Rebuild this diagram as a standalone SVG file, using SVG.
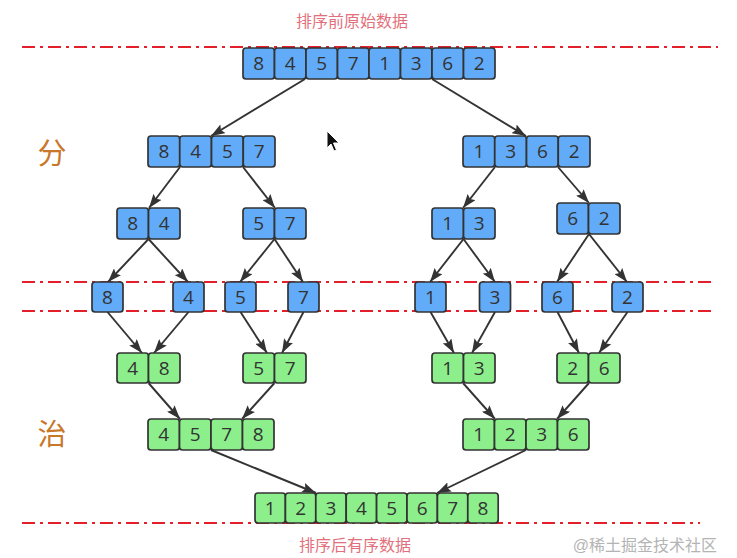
<svg xmlns="http://www.w3.org/2000/svg" width="737" height="558" viewBox="0 0 737 558">
<defs>
<marker id="ah" viewBox="0 0 14 10" refX="14" refY="5" markerWidth="14" markerHeight="10" markerUnits="userSpaceOnUse" orient="auto">
<path d="M0,0 L14,5 L0,10 L2.5,5 Z" fill="#333"/>
</marker>
</defs>
<style>
.b{fill:#62abf8;stroke:#333;stroke-width:1.7}
.g{fill:#8cef8c;stroke:#333;stroke-width:1.7}
.t{font-family:"Open Sans","Liberation Sans",sans-serif;font-size:19px;fill:#333;text-anchor:middle}
.dl{stroke:#e3202a;stroke-width:2;stroke-dasharray:13 5 3 5;fill:none}
.c{stroke:#333;stroke-width:1.9;fill:none;marker-end:url(#ah)}
.lbl{font-family:"Liberation Sans","Noto Sans CJK SC",sans-serif;font-size:16px;fill:#e2707c;text-anchor:middle}
.big{font-family:"Liberation Sans","Noto Sans CJK SC",sans-serif;font-size:29px;fill:#c8782a;text-anchor:middle}
</style>
<rect width="737" height="558" fill="#fff"/>
<g id="guides">
<line class="dl" x1="22" y1="47" x2="718" y2="47"/>
<line class="dl" x1="22" y1="282" x2="714" y2="282"/>
<line class="dl" x1="22" y1="311" x2="714" y2="311"/>
<line class="dl" x1="22" y1="523" x2="700" y2="523"/>
</g>
<text class="lbl" x="352" y="27">排序前原始数据</text>
<text class="lbl" x="355" y="551">排序后有序数据</text>
<text class="big" x="52" y="164">分</text>
<text class="big" x="52" y="445">治</text>
<text x="717" y="551" font-family="Liberation Sans,'Noto Sans CJK SC',sans-serif" font-size="16" fill="#b4b4b4" text-anchor="end">@稀土掘金技术社区</text>

<g id="connectors">
<line class="c" x1="305" y1="79" x2="211" y2="136"/>
<line class="c" x1="432" y1="79" x2="526" y2="136"/>
<line class="c" x1="180" y1="167" x2="149" y2="208"/>
<line class="c" x1="243" y1="167" x2="275" y2="208"/>
<line class="c" x1="495" y1="167" x2="463" y2="208"/>
<line class="c" x1="558" y1="167" x2="589" y2="203"/>
<line class="c" x1="148.5" y1="239" x2="108" y2="282"/>
<line class="c" x1="148.5" y1="239" x2="188" y2="282"/>
<line class="c" x1="274.5" y1="239" x2="240" y2="282"/>
<line class="c" x1="274.5" y1="239" x2="303" y2="282"/>
<line class="c" x1="463.5" y1="239" x2="430" y2="282"/>
<line class="c" x1="463.5" y1="239" x2="495" y2="282"/>
<line class="c" x1="589" y1="234" x2="557" y2="282"/>
<line class="c" x1="589" y1="234" x2="627" y2="282"/>
<line class="c" x1="107.5" y1="312" x2="142" y2="353"/>
<line class="c" x1="188.5" y1="312" x2="154" y2="353"/>
<line class="c" x1="240.5" y1="312" x2="267" y2="353"/>
<line class="c" x1="303.5" y1="312" x2="282" y2="353"/>
<line class="c" x1="430.5" y1="312" x2="454" y2="353"/>
<line class="c" x1="495" y1="312" x2="472" y2="353"/>
<line class="c" x1="557.5" y1="312" x2="579" y2="353"/>
<line class="c" x1="627.5" y1="312" x2="599" y2="353"/>
<line class="c" x1="148.5" y1="383" x2="180" y2="419"/>
<line class="c" x1="274.5" y1="383" x2="242" y2="419"/>
<line class="c" x1="463" y1="383" x2="495" y2="419"/>
<line class="c" x1="589" y1="383" x2="557" y2="419"/>
<line class="c" x1="211" y1="450" x2="316" y2="493"/>
<line class="c" x1="526" y1="450" x2="437" y2="493"/>
</g>

<g id="n-top">
<rect class="b" x="243" y="48" width="31.5" height="31" rx="3"/><text class="t" x="258.75" y="70">8</text>
<rect class="b" x="274.5" y="48" width="31.5" height="31" rx="3"/><text class="t" x="290.25" y="70">4</text>
<rect class="b" x="306" y="48" width="31.5" height="31" rx="3"/><text class="t" x="321.75" y="70">5</text>
<rect class="b" x="337.5" y="48" width="31.5" height="31" rx="3"/><text class="t" x="353.25" y="70">7</text>
<rect class="b" x="369" y="48" width="31.5" height="31" rx="3"/><text class="t" x="384.75" y="70">1</text>
<rect class="b" x="400.5" y="48" width="31.5" height="31" rx="3"/><text class="t" x="416.25" y="70">3</text>
<rect class="b" x="432" y="48" width="31.5" height="31" rx="3"/><text class="t" x="447.75" y="70">6</text>
<rect class="b" x="463.5" y="48" width="31.5" height="31" rx="3"/><text class="t" x="479.25" y="70">2</text>
</g>

<g id="n-8457">
<rect class="b" x="148" y="136" width="31.75" height="31" rx="3"/><text class="t" x="163.9" y="158">8</text>
<rect class="b" x="179.75" y="136" width="31.75" height="31" rx="3"/><text class="t" x="195.6" y="158">4</text>
<rect class="b" x="211.5" y="136" width="31.75" height="31" rx="3"/><text class="t" x="227.4" y="158">5</text>
<rect class="b" x="243.25" y="136" width="31.75" height="31" rx="3"/><text class="t" x="259.1" y="158">7</text>
</g>
<g id="n-1362">
<rect class="b" x="463" y="136" width="31.75" height="31" rx="3"/><text class="t" x="478.9" y="158">1</text>
<rect class="b" x="494.75" y="136" width="31.75" height="31" rx="3"/><text class="t" x="510.6" y="158">3</text>
<rect class="b" x="526.5" y="136" width="31.75" height="31" rx="3"/><text class="t" x="542.4" y="158">6</text>
<rect class="b" x="558.25" y="136" width="31.75" height="31" rx="3"/><text class="t" x="574.1" y="158">2</text>
</g>

<g id="n-84">
<rect class="b" x="117" y="208" width="31.5" height="31" rx="3"/><text class="t" x="132.75" y="230">8</text>
<rect class="b" x="148.5" y="208" width="31.5" height="31" rx="3"/><text class="t" x="164.25" y="230">4</text>
</g>
<g id="n-57">
<rect class="b" x="243" y="208" width="31.5" height="31" rx="3"/><text class="t" x="258.75" y="230">5</text>
<rect class="b" x="274.5" y="208" width="31.5" height="31" rx="3"/><text class="t" x="290.25" y="230">7</text>
</g>
<g id="n-13">
<rect class="b" x="432" y="208" width="31.5" height="31" rx="3"/><text class="t" x="447.75" y="230">1</text>
<rect class="b" x="463.5" y="208" width="31.5" height="31" rx="3"/><text class="t" x="479.25" y="230">3</text>
</g>
<g id="n-62">
<rect class="b" x="557" y="203" width="31.5" height="31" rx="3"/><text class="t" x="572.75" y="225">6</text>
<rect class="b" x="588.5" y="203" width="31.5" height="31" rx="3"/><text class="t" x="604.25" y="225">2</text>
</g>

<g id="n-s8"><rect class="b" x="92" y="282" width="31" height="30" rx="3"/><text class="t" x="107.5" y="303.5">8</text></g>
<g id="n-s4"><rect class="b" x="173" y="282" width="31" height="30" rx="3"/><text class="t" x="188.5" y="303.5">4</text></g>
<g id="n-s5"><rect class="b" x="225" y="282" width="31" height="30" rx="3"/><text class="t" x="240.5" y="303.5">5</text></g>
<g id="n-s7"><rect class="b" x="288" y="282" width="31" height="30" rx="3"/><text class="t" x="303.5" y="303.5">7</text></g>
<g id="n-s1"><rect class="b" x="415" y="282" width="31" height="30" rx="3"/><text class="t" x="430.5" y="303.5">1</text></g>
<g id="n-s3"><rect class="b" x="479.5" y="282" width="31" height="30" rx="3"/><text class="t" x="495" y="303.5">3</text></g>
<g id="n-s6"><rect class="b" x="542" y="282" width="31" height="30" rx="3"/><text class="t" x="557.5" y="303.5">6</text></g>
<g id="n-s2"><rect class="b" x="612" y="282" width="31" height="30" rx="3"/><text class="t" x="627.5" y="303.5">2</text></g>

<g id="m-48">
<rect class="g" x="117" y="353" width="31.5" height="30" rx="3"/><text class="t" x="132.75" y="374.5">4</text>
<rect class="g" x="148.5" y="353" width="31.5" height="30" rx="3"/><text class="t" x="164.25" y="374.5">8</text>
</g>
<g id="m-57">
<rect class="g" x="243" y="353" width="31.5" height="30" rx="3"/><text class="t" x="258.75" y="374.5">5</text>
<rect class="g" x="274.5" y="353" width="31.5" height="30" rx="3"/><text class="t" x="290.25" y="374.5">7</text>
</g>
<g id="m-13">
<rect class="g" x="432" y="353" width="31.5" height="30" rx="3"/><text class="t" x="447.75" y="374.5">1</text>
<rect class="g" x="463.5" y="353" width="31.5" height="30" rx="3"/><text class="t" x="479.25" y="374.5">3</text>
</g>
<g id="m-26">
<rect class="g" x="557" y="353" width="31.5" height="30" rx="3"/><text class="t" x="572.75" y="374.5">2</text>
<rect class="g" x="588.5" y="353" width="31.5" height="30" rx="3"/><text class="t" x="604.25" y="374.5">6</text>
</g>

<g id="m-4578">
<rect class="g" x="148" y="419" width="31.5" height="31" rx="3"/><text class="t" x="163.75" y="441">4</text>
<rect class="g" x="179.5" y="419" width="31.5" height="31" rx="3"/><text class="t" x="195.25" y="441">5</text>
<rect class="g" x="211" y="419" width="31.5" height="31" rx="3"/><text class="t" x="226.75" y="441">7</text>
<rect class="g" x="242.5" y="419" width="31.5" height="31" rx="3"/><text class="t" x="258.25" y="441">8</text>
</g>
<g id="m-1236">
<rect class="g" x="463" y="419" width="31.5" height="31" rx="3"/><text class="t" x="478.75" y="441">1</text>
<rect class="g" x="494.5" y="419" width="31.5" height="31" rx="3"/><text class="t" x="510.25" y="441">2</text>
<rect class="g" x="526" y="419" width="31.5" height="31" rx="3"/><text class="t" x="541.75" y="441">3</text>
<rect class="g" x="557.5" y="419" width="31.5" height="31" rx="3"/><text class="t" x="573.25" y="441">6</text>
</g>

<g id="m-final">
<rect class="g" x="255" y="493" width="30.4" height="30" rx="3"/><text class="t" x="270.2" y="514.5">1</text>
<rect class="g" x="285.4" y="493" width="30.4" height="30" rx="3"/><text class="t" x="300.6" y="514.5">2</text>
<rect class="g" x="315.8" y="493" width="30.4" height="30" rx="3"/><text class="t" x="331" y="514.5">3</text>
<rect class="g" x="346.2" y="493" width="30.4" height="30" rx="3"/><text class="t" x="361.4" y="514.5">4</text>
<rect class="g" x="376.6" y="493" width="30.4" height="30" rx="3"/><text class="t" x="391.8" y="514.5">5</text>
<rect class="g" x="407" y="493" width="30.4" height="30" rx="3"/><text class="t" x="422.2" y="514.5">6</text>
<rect class="g" x="437.4" y="493" width="30.4" height="30" rx="3"/><text class="t" x="452.6" y="514.5">7</text>
<rect class="g" x="467.8" y="493" width="30.4" height="30" rx="3"/><text class="t" x="483" y="514.5">8</text>
</g>

<path d="M327,131 L327,148 L331,144 L334,151 L336.5,150 L333.5,143 L339,143 Z" fill="#111" stroke="#fff" stroke-width="1"/>
</svg>
